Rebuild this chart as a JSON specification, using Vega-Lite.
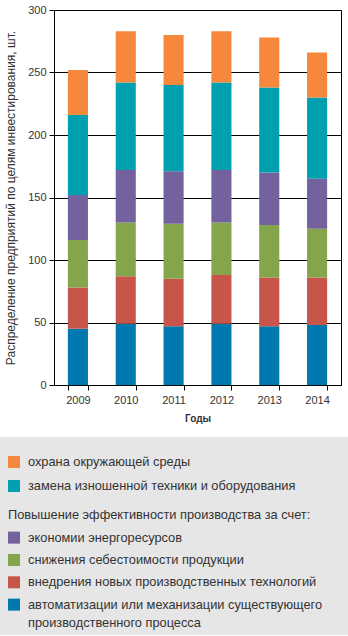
{
  "$schema": "https://vega.github.io/schema/vega-lite/v6.json",
  "padding": {"top": 3, "left": 0, "right": 0, "bottom": 0},
  "background": "white",
  "config": {"font": "Liberation Sans", "view": {"stroke": null}},
  "datasets": {
    "bars": [
      {"year": "2009", "series": "автоматизации или механизации существующего производственного процесса", "value": 45},
      {"year": "2009", "series": "внедрения новых производственных технологий", "value": 33},
      {"year": "2009", "series": "снижения себестоимости продукции", "value": 38},
      {"year": "2009", "series": "экономии энергоресурсов", "value": 36},
      {"year": "2009", "series": "замена изношенной техники и оборудования", "value": 64},
      {"year": "2009", "series": "охрана окружающей среды", "value": 36},
      {"year": "2010", "series": "автоматизации или механизации существующего производственного процесса", "value": 49},
      {"year": "2010", "series": "внедрения новых производственных технологий", "value": 38},
      {"year": "2010", "series": "снижения себестоимости продукции", "value": 43},
      {"year": "2010", "series": "экономии энергоресурсов", "value": 42},
      {"year": "2010", "series": "замена изношенной техники и оборудования", "value": 70},
      {"year": "2010", "series": "охрана окружающей среды", "value": 41},
      {"year": "2011", "series": "автоматизации или механизации существующего производственного процесса", "value": 47},
      {"year": "2011", "series": "внедрения новых производственных технологий", "value": 38},
      {"year": "2011", "series": "снижения себестоимости продукции", "value": 44},
      {"year": "2011", "series": "экономии энергоресурсов", "value": 42},
      {"year": "2011", "series": "замена изношенной техники и оборудования", "value": 69},
      {"year": "2011", "series": "охрана окружающей среды", "value": 40},
      {"year": "2012", "series": "автоматизации или механизации существующего производственного процесса", "value": 49},
      {"year": "2012", "series": "внедрения новых производственных технологий", "value": 39},
      {"year": "2012", "series": "снижения себестоимости продукции", "value": 42},
      {"year": "2012", "series": "экономии энергоресурсов", "value": 42},
      {"year": "2012", "series": "замена изношенной техники и оборудования", "value": 70},
      {"year": "2012", "series": "охрана окружающей среды", "value": 41},
      {"year": "2013", "series": "автоматизации или механизации существующего производственного процесса", "value": 47},
      {"year": "2013", "series": "внедрения новых производственных технологий", "value": 39},
      {"year": "2013", "series": "снижения себестоимости продукции", "value": 42},
      {"year": "2013", "series": "экономии энергоресурсов", "value": 42},
      {"year": "2013", "series": "замена изношенной техники и оборудования", "value": 68},
      {"year": "2013", "series": "охрана окружающей среды", "value": 40},
      {"year": "2014", "series": "автоматизации или механизации существующего производственного процесса", "value": 48},
      {"year": "2014", "series": "внедрения новых производственных технологий", "value": 38},
      {"year": "2014", "series": "снижения себестоимости продукции", "value": 39},
      {"year": "2014", "series": "экономии энергоресурсов", "value": 40},
      {"year": "2014", "series": "замена изношенной техники и оборудования", "value": 65},
      {"year": "2014", "series": "охрана окружающей среды", "value": 36}
    ],
    "legendA": [
      {"series": "охрана окружающей среды", "label": "охрана окружающей среды"},
      {"series": "замена изношенной техники и оборудования", "label": "замена изношенной техники и оборудования"}
    ],
    "legendB": [
      {"series": null, "label": "Повышение эффективности производства за счет:"},
      {"series": "экономии энергоресурсов", "label": "экономии энергоресурсов"},
      {"series": "снижения себестоимости продукции", "label": "снижения себестоимости продукции"},
      {"series": "внедрения новых производственных технологий", "label": "внедрения новых производственных технологий"},
      {"series": "автоматизации или механизации существующего производственного процесса", "label": "автоматизации или механизации существующего\nпроизводственного процесса"}
    ]
  },
  "concat": [
    {
      "hconcat": [
        {
          "width": 4,
          "height": 375,
          "data": {"values": []},
          "mark": {"type": "point", "opacity": 0}
        },
        {
          "width": 287,
          "height": 375,
          "view": {"stroke": "#000", "strokeWidth": 1},
          "data": {"name": "bars"},
          "transform": [{"window": [{"op": "row_number", "as": "idx"}], "groupby": ["year"]}],
          "mark": {"type": "bar"},
          "encoding": {
            "x": {
              "field": "year", "type": "ordinal", "title": "Годы",
              "scale": {"paddingInner": 0.58, "paddingOuter": 0.29},
              "axis": {"labelAngle": 0, "tickBand": "extent", "tickSize": 5, "tickColor": "#000", "domainColor": "#000",
                       "labelFontSize": 11, "labelColor": "#333", "labelPadding": 4,
                       "titleFontSize": 10, "titleFontWeight": "bold", "titleColor": "#333", "titlePadding": 8}
            },
            "y": {
              "field": "value", "type": "quantitative", "stack": "zero",
              "title": "Распределение предприятий по целям инвестирования, шт.",
              "scale": {"domain": [0, 300], "nice": false},
              "axis": {"values": [0, 50, 100, 150, 200, 250, 300], "grid": true, "gridColor": "#000", "gridOpacity": 1, "gridWidth": 1,
                       "domainColor": "#000", "tickColor": "#000", "tickSize": 5,
                       "labelFontSize": 11, "labelColor": "#333", "labelPadding": 3,
                       "titleFontSize": 12, "titleFontWeight": "normal", "titleColor": "#333", "titlePadding": 10}
            },
            "order": {"field": "idx", "type": "quantitative", "sort": "ascending"},
            "color": {
              "field": "series", "type": "nominal", "legend": null,
              "scale": {
                "domain": ["автоматизации или механизации существующего производственного процесса", "внедрения новых производственных технологий", "снижения себестоимости продукции", "экономии энергоресурсов", "замена изношенной техники и оборудования", "охрана окружающей среды"],
                "range": ["#0079AE", "#C8554A", "#84A54C", "#73629D", "#00A0B0", "#F5883B"]
              }
            }
          }
        }
      ],
      "spacing": 0
    },
    {
      "concat": [
        {
          "width": 348,
          "height": 64,
          "view": {"fill": "#E6E6E6", "stroke": null},
          "data": {"name": "legendA"},
          "encoding": {
            "y": {"field": "label", "type": "nominal", "sort": null, "axis": null,
                  "scale": {"type": "point", "padding": 0.833, "align": 0.625}}
          },
          "layer": [
            {
              "mark": {"type": "point", "shape": "square", "size": 144, "filled": true, "opacity": 1, "x": 14},
              "encoding": {"color": {"field": "series", "type": "nominal", "legend": null}}
            },
            {
              "mark": {"type": "text", "align": "left", "baseline": "alphabetic", "dy": 4, "x": 28, "fontSize": 12.8, "color": "#333"},
              "encoding": {"text": {"field": "label"}}
            }
          ]
        },
        {
          "width": 348,
          "height": 134,
          "view": {"fill": "#E6E6E6", "stroke": null},
          "data": {"name": "legendB"},
          "encoding": {
            "y": {"field": "label", "type": "nominal", "sort": null, "axis": null,
                  "scale": {"type": "point", "padding": 1.08, "align": 0.32}}
          },
          "layer": [
            {
              "transform": [{"filter": "datum.series == null"}],
              "mark": {"type": "text", "align": "left", "baseline": "alphabetic", "dy": 4, "x": 8, "fontSize": 12.8, "color": "#333"},
              "encoding": {"text": {"field": "label"}}
            },
            {
              "transform": [{"filter": "datum.series != null"}],
              "mark": {"type": "point", "shape": "square", "size": 144, "filled": true, "opacity": 1, "x": 14},
              "encoding": {"color": {"field": "series", "type": "nominal", "legend": null}}
            },
            {
              "transform": [{"filter": "datum.series != null"}],
              "mark": {"type": "text", "align": "left", "baseline": "alphabetic", "dy": 4, "x": 28, "fontSize": 12.8, "color": "#333", "lineBreak": "\n", "lineHeight": 18},
              "encoding": {"text": {"field": "label"}}
            }
          ]
        }
      ],
      "columns": 1,
      "spacing": 0
    }
  ],
  "columns": 1,
  "spacing": 13
}
